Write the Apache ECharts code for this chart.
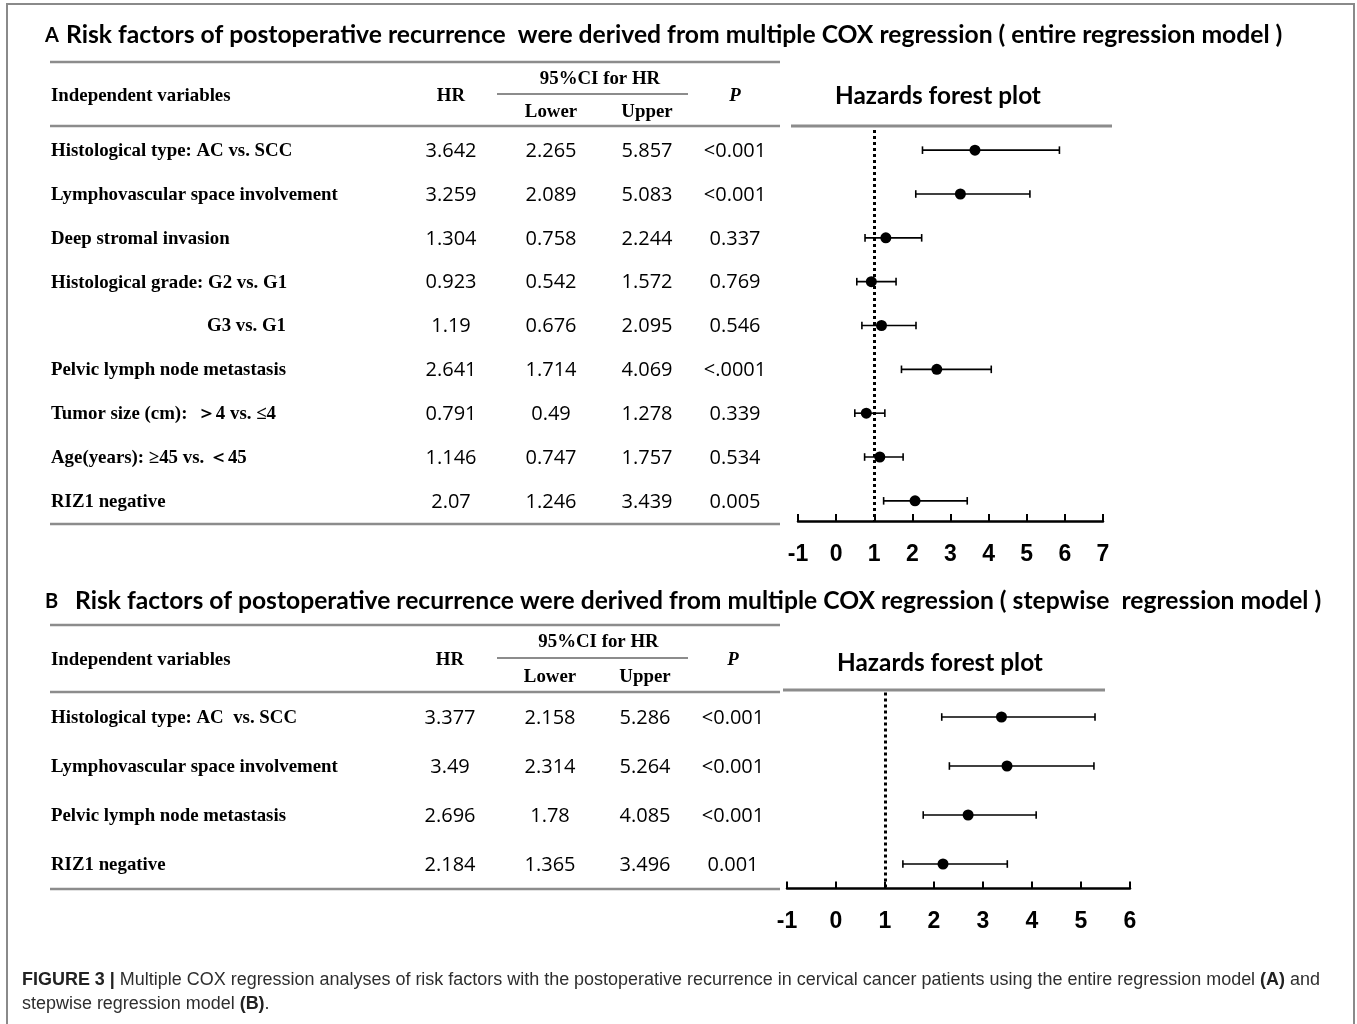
<!DOCTYPE html>
<html><head><meta charset="utf-8">
<script src="https://cdn.jsdelivr.net/npm/echarts@6/dist/echarts.min.js"></script>
<style>html,body{margin:0;padding:0;background:#fff}#main{width:1357px;height:1024px}</style>
</head><body><div id="main"></div>
<script>
// ---------- Panel A data (entire regression model) ----------
const labelsA = [
  "Histological type: AC vs. SCC",
  "Lymphovascular space involvement",
  "Deep stromal invasion",
  "Histological grade: G2 vs. G1",
  "G3 vs. G1",
  "Pelvic lymph node metastasis",
  "Tumor size (cm):  \uFF1E4 vs. \u22644",
  "Age(years): \u226545 vs. \uFF1C45",
  "RIZ1 negative"
];
const hrA    = [3.642, 3.259, 1.304, 0.923, 1.19, 2.641, 0.791, 1.146, 2.07];
const lowerA = [2.265, 2.089, 0.758, 0.542, 0.676, 1.714, 0.49, 0.747, 1.246];
const upperA = [5.857, 5.083, 2.244, 1.572, 2.095, 4.069, 1.278, 1.757, 3.439];
const pA     = ["<0.001", "<0.001", "0.337", "0.769", "0.546", "<.0001", "0.339", "0.534", "0.005"];
const indentA = [4];
const ticksA = [-1, 0, 1, 2, 3, 4, 5, 6, 7];

// ---------- Panel B data (stepwise regression model) ----------
const labelsB = [
  "Histological type: AC  vs. SCC",
  "Lymphovascular space involvement",
  "Pelvic lymph node metastasis",
  "RIZ1 negative"
];
const hrB    = [3.377, 3.49, 2.696, 2.184];
const lowerB = [2.158, 2.314, 1.78, 1.365];
const upperB = [5.286, 5.264, 4.085, 3.496];
const pB     = ["<0.001", "<0.001", "<0.001", "0.001"];
const ticksB = [-1, 0, 1, 2, 3, 4, 5, 6];

const refValue = 1;

const titleA = "Risk factors of postoperative recurrence  were derived from multiple COX regression ( entire regression model )";
const titleB = "Risk factors of postoperative recurrence were derived from multiple COX regression ( stepwise  regression model )";
const plotTitle = "Hazards forest plot";
const headVar = "Independent variables", headHR = "HR", headCI = "95%CI for HR", headLo = "Lower", headUp = "Upper", headP = "P";
const cap1 = [["b", "FIGURE 3 | "], ["n", "Multiple COX regression analyses of risk factors with the postoperative recurrence in cervical cancer patients using the entire regression model "], ["b", "(A)"], ["n", " and"]];
const cap2 = [["n", "stepwise regression model "], ["b", "(B)"], ["n", "."]];

// ---------- fonts & measuring ----------
const SERIF = "'Liberation Serif', 'Times New Roman', serif";
const SANS = "'Liberation Sans', Arial, sans-serif";
const CAL = "Lato, 'Open Sans', sans-serif";
const NUM = "'Open Sans', sans-serif";
const mctx = document.createElement('canvas').getContext('2d');
function measure(text, weight, family, size) {
  mctx.font = 'normal ' + weight + ' ' + size + 'px ' + family;
  return mctx.measureText(text).width;
}
const labelSize = 18 * 287 / measure("Lymphovascular space involvement", 'bold', SERIF, 18);
const tA = 24 * 1217 / measure(titleA, 'bold', CAL, 24);
const tB = 24 * 1247 / measure(titleB, 'bold', CAL, 24);
const plotTitleSize = 24 * 206 / measure(plotTitle, 'bold', CAL, 24);
const capSize = 17.5;
function capWidth(parts) { return parts.reduce((s, p) => s + measure(p[1], p[0] === 'b' ? 'bold' : 'normal', SANS, capSize), 0); }
const capScale = 1298 / capWidth(cap1);
const numSize = 20;

// ---------- graphic helpers ----------
function hline(x1, x2, y, w, color) {
  return { type: 'line', silent: true, shape: { x1: x1, y1: y, x2: x2, y2: y }, style: { stroke: color, lineWidth: w } };
}
function txt(x, y, text, o) {
  o = o || {};
  return { type: 'text', x: x, y: y, silent: true, style: {
    text: text, fontSize: o.size || labelSize, fontFamily: o.family || SERIF,
    fontWeight: o.weight || 'bold', fontStyle: o.style || 'normal', fill: o.fill || '#000',
    align: o.align || 'center', verticalAlign: 'middle' } };
}
function richCap(x, y, parts) {
  const s = parts.map(p => p[0] === 'b' ? '{b|' + p[1] + '}' : '{n|' + p[1] + '}').join('');
  return { type: 'text', x: x, y: y, scaleX: capScale, silent: true, style: {
    text: s, verticalAlign: 'middle', align: 'left',
    rich: {
      b: { fontWeight: 'bold', fontSize: capSize, fontFamily: SANS, fill: '#222' },
      n: { fontWeight: 'normal', fontSize: capSize, fontFamily: SANS, fill: '#2e2e2e' }
    } } };
}
const RULE = '#8c8c8c';
function tableHeader(L) {
  return [
    hline(50, 780, L.top, 2.5, RULE),
    hline(50, 780, L.head, 2.5, RULE),
    hline(50, 780, L.bottom, 2.5, RULE),
    hline(497, 688, L.sub, 2, RULE),
    txt(51, L.mid, headVar, { align: 'left' }),
    txt(L.cHR, L.mid, headHR),
    txt((L.cLo + L.cUp) / 2 + 1, L.ci, headCI),
    txt(L.cLo, L.lu, headLo),
    txt(L.cUp, L.lu, headUp),
    txt(L.cP, L.mid, headP, { style: 'italic' }),
    hline(L.pr1, L.pr2, L.pry, 3, RULE),
    txt(L.ptx, L.pty, plotTitle, { family: CAL, size: plotTitleSize })
  ];
}
const LA = { top: 62, head: 126, bottom: 524, sub: 94, mid: 96, ci: 79, lu: 112, cHR: 451, cLo: 551, cUp: 647, cP: 735, pr1: 791, pr2: 1112, pry: 126, ptx: 938, pty: 96 };
const LB = { top: 625, head: 692, bottom: 889, sub: 658, mid: 660, ci: 642, lu: 677, cHR: 450, cLo: 550, cUp: 645, cP: 733, pr1: 783, pr2: 1105, pry: 690, ptx: 940, pty: 663 };
const graphics = [].concat(
  [{ type: 'rect', silent: true, shape: { x: 7, y: 4, width: 1347, height: 1030 }, style: { fill: 'none', stroke: '#8a8a8a', lineWidth: 2 } }],
  [txt(45, 36, 'A', { family: CAL, size: 20, align: 'left' }), txt(66, 35, titleA, { family: CAL, size: tA, align: 'left' })],
  [txt(45, 602, 'B', { family: CAL, size: 20, align: 'left' }), txt(75, 601, titleB, { family: CAL, size: tB, align: 'left' })],
  tableHeader(LA),
  tableHeader(LB),
  [richCap(22, 980, cap1), richCap(22, 1004, cap2)]
);

// ---------- series builders ----------
function tableSeries(g, labels, hr, lo, up, p, L, indent) {
  return {
    type: 'custom', xAxisIndex: g, yAxisIndex: g, clip: false, silent: true, z: 2,
    data: labels.map((l, i) => [refValue, i]),
    encode: { x: 0, y: 1 },
    renderItem: function (params, api) {
      const i = params.dataIndex;
      const y = api.coord([refValue, i])[1] + 1;
      const ind = indent && indent.indexOf(i) >= 0;
      const numOpt = { family: NUM, size: numSize, weight: 'normal' };
      return { type: 'group', children: [
        txt(ind ? 207 : 51, y, labels[i], { align: 'left' }),
        txt(L.cHR, y, String(hr[i]), numOpt),
        txt(L.cLo, y, String(lo[i]), numOpt),
        txt(L.cUp, y, String(up[i]), numOpt),
        txt(L.cP, y, p[i], numOpt)
      ] };
    }
  };
}
function errSeries(g, hr, lo, up) {
  return {
    type: 'custom', xAxisIndex: g, yAxisIndex: g, silent: true, z: 3,
    data: hr.map((v, i) => [i, lo[i], up[i]]),
    encode: { x: [1, 2], y: 0 },
    renderItem: function (params, api) {
      const i = api.value(0);
      const a = api.coord([api.value(1), i]);
      const b = api.coord([api.value(2), i]);
      const h = 3.8, st = { stroke: '#000', lineWidth: 1.6 };
      return { type: 'group', children: [
        { type: 'line', shape: { x1: a[0], y1: a[1], x2: b[0], y2: b[1] }, style: st },
        { type: 'line', shape: { x1: a[0], y1: a[1] - h, x2: a[0], y2: a[1] + h }, style: st },
        { type: 'line', shape: { x1: b[0], y1: b[1] - h, x2: b[0], y2: b[1] + h }, style: st }
      ] };
    }
  };
}
function pointSeries(g, hr) {
  return {
    type: 'scatter', xAxisIndex: g, yAxisIndex: g, silent: true, z: 4,
    data: hr.map((v, i) => [v, i]),
    symbol: 'circle', symbolSize: 11,
    itemStyle: { color: '#000', opacity: 1 },
    markLine: {
      silent: true, symbol: 'none', z: 1, animation: false,
      label: { show: false },
      lineStyle: { type: [3, 3], width: 3, color: '#000', opacity: 1 },
      data: [{ xAxis: refValue }]
    }
  };
}
function xAxisCfg(g, ticks) {
  return {
    gridIndex: g, type: 'value', min: ticks[0], max: ticks[ticks.length - 1], interval: 1, position: 'bottom',
    axisLine: { show: true, onZero: false, lineStyle: { color: '#000', width: 2.5 } },
    axisTick: { show: true, inside: true, length: 7, lineStyle: { color: '#000', width: 2 } },
    axisLabel: { margin: 22, color: '#000', fontSize: 23, fontWeight: 'bold', fontFamily: SANS },
    splitLine: { show: false }
  };
}

const option = {
  backgroundColor: '#fff',
  animation: false,
  grid: [
    { left: 798, top: 130, width: 305, height: 391, containLabel: false, outerBoundsMode: 'none' },
    { left: 787, top: 692.5, width: 343, height: 196, containLabel: false, outerBoundsMode: 'none' }
  ],
  xAxis: [xAxisCfg(0, ticksA), xAxisCfg(1, ticksB)],
  yAxis: [
    { gridIndex: 0, type: 'value', min: -0.46, max: labelsA.length - 1 + 0.46, inverse: true, show: false },
    { gridIndex: 1, type: 'value', min: -0.5, max: labelsB.length - 1 + 0.5, inverse: true, show: false }
  ],
  graphic: graphics,
  series: [
    tableSeries(0, labelsA, hrA, lowerA, upperA, pA, LA, indentA),
    errSeries(0, hrA, lowerA, upperA),
    pointSeries(0, hrA),
    tableSeries(1, labelsB, hrB, lowerB, upperB, pB, LB, null),
    errSeries(1, hrB, lowerB, upperB),
    pointSeries(1, hrB)
  ]
};
const chart = echarts.init(document.getElementById('main'));
chart.setOption(option);
</script>
</body></html>
